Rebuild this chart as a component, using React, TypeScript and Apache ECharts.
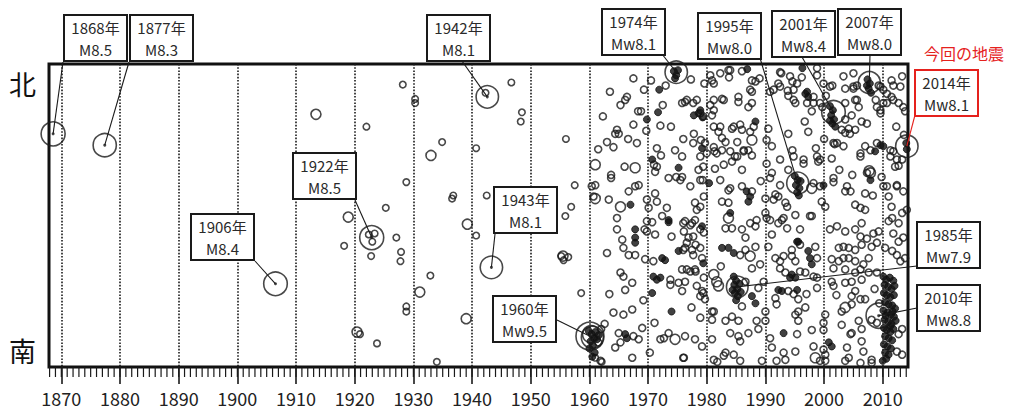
import React, { useEffect, useRef } from "react";
import * as echarts from "echarts";

// ---- axis ranges (year, degrees south) ----
const X_MIN = 1867.9;
const X_MAX = 2014.3;
const Y_MIN = 11.5;
const Y_MAX = 41;

const decadeLabels = [1870, 1880, 1890, 1900, 1910, 1920, 1930, 1940, 1950, 1960, 1970, 1980, 1990, 2000, 2010];

// ---- major earthquakes ----
const eventNames = ["1868年", "1877年", "1906年", "1922年", "1942年", "1943年", "1960年", "1974年", "1985年", "1995年", "2001年", "2007年", "2010年", "2014年"];
const eventYears = [1868.6, 1877.4, 1906.5, 1922.9, 1942.6, 1943.3, 1960.1, 1974.8, 1985.2, 1995.5, 2001.6, 2007.7, 2009.3, 2014.1];
const eventLats = [18.3, 19.4, 32.9, 28.4, 14.7, 31.3, 38.0, 12.3, 33.2, 23.1, 16.2, 13.3, 36.0, 19.5];
const eventMags = [8.5, 8.3, 8.4, 8.5, 8.1, 8.1, 9.5, 8.1, 7.9, 8.0, 8.4, 8.0, 8.8, 8.1];
const eventMagTypes = ["M", "M", "M", "M", "M", "M", "Mw", "Mw", "Mw", "Mw", "Mw", "Mw", "Mw", "Mw"];
const currentEventName = "2014年";

// other large shocks: [year, lat, magnitude]
const otherLarge: [number, number, number][] = [
  [1960.5, 38.1, 8.0],
  [1960.3, 37.8, 6.8],
];

// ---- smaller earthquakes: [year, latitude south] ----
const earlyQuakes: [number, number][] = [
  [1922.0, 17.6], [1928.2, 13.5], [1930.3, 14.9], [1930.3, 15.3], [1934.9, 19.1], [1928.8, 23.0], [1925.3, 25.5],
  [1918.2, 29.2], [1922.8, 30.2], [1927.1, 28.4], [1927.9, 29.8], [1927.8, 30.7], [1932.9, 32.1], [1928.8, 35.1],
  [1928.8, 35.6], [1920.9, 37.8], [1923.8, 38.7], [1934.0, 40.5], [1936.6, 24.6], [1936.8, 24.3],
  [1940.7, 19.7], [1940.7, 28.2], [1942.5, 24.3], [1946.7, 13.3], [1948.5, 16.2], [1948.3, 17.1], [1956.0, 18.8],
  [1957.5, 23.3], [1956.9, 25.4], [1955.9, 26.3], [1955.2, 30.2], [1955.6, 30.6], [1956.4, 30.3], [1958.6, 33.8],
  [1962.1, 40.5], [1961.0, 40.1], [1922.4, 28.1], [1923.4, 28.0], [1923.0, 28.8], [1942.3, 14.3],
];

const mediumQuakes: [number, number][] = [
  [1913.4, 16.4], [1933.0, 20.4], [1918.9, 26.4], [1931.1, 33.7], [1939.2, 27.1], [1939.0, 36.3], [1920.4, 37.6],
  [1955.5, 30.2], [1961.0, 21.3], [1961.0, 24.6], [1965.3, 25.4], [1967.8, 21.6], [1987.7, 18.9], [1997.9, 23.6],
  [2007.9, 22.1], [1981.2, 32.0], [1981.7, 32.7], [1982.0, 33.1], [1983.7, 26.5], [1974.6, 38.3], [1987.4, 30.2],
  [2003.6, 35.2], [1998.5, 40.1], [2007.7, 21.9],
];

const modernQuakes: [number, number][] = [
  // 1960-1986, north
  [1967.5, 12.9], [1966.4, 14.7], [1966.1, 15.0], [1965.3, 15.5], [1968.3, 16.1], [1968.8, 16.1], [1972.5, 15.5],
  [1975.8, 15.3], [1976.3, 15.2], [1967.5, 17.4], [1969.7, 18.0], [1972.1, 17.5], [1980.6, 15.5], [1981.2, 15.0],
  [1982.3, 12.4], [1983.7, 12.1], [1983.8, 12.8], [1982.6, 14.9], [1985.4, 14.7], [1984.3, 17.8], [1985.7, 17.4],
  [1986.0, 17.9], [1981.2, 17.6], [1982.0, 18.1], [1982.6, 18.7], [1983.2, 19.1], [1985.2, 19.1], [1986.3, 19.9],
  [1985.2, 20.5], [1982.6, 19.9], [1981.3, 20.0], [1964.7, 17.9], [1965.0, 18.3], [1964.4, 18.3], [1963.0, 19.1],
  [1964.1, 19.6], [1968.1, 19.2], [1971.5, 19.7], [1972.2, 20.4], [1974.6, 19.9], [1975.8, 20.5], [1977.8, 18.3],
  [1980.0, 20.2], [1963.7, 22.3], [1963.7, 22.6], [1966.0, 21.5], [1971.0, 21.3], [1971.5, 21.5], [1971.2, 22.0],
  [1973.5, 22.6], [1974.8, 22.5], [1975.8, 22.5], [1978.6, 21.8], [1979.3, 22.8], [1982.9, 21.3], [1984.3, 21.0],
  [1986.0, 21.8], [1983.7, 23.8], [1960.4, 23.4], [1963.3, 24.7], [1966.7, 23.9], [1967.8, 23.4], [1968.4, 23.3],
  [1969.8, 24.7], [1970.1, 25.5], [1971.2, 24.1], [1971.5, 24.9], [1973.2, 25.5], [1972.4, 26.3], [1978.9, 25.4],
  [1978.0, 25.0], [1978.3, 25.7], [1979.5, 24.4], [1982.6, 24.9], [1983.7, 25.0], [1961.0, 23.3], [1960.7, 24.4],
  [1969.3, 14.0], [1970.5, 13.1], [1973.0, 13.6], [1977.3, 13.0], [1979.6, 13.4], [1980.6, 12.6], [1963.5, 14.2],
  [1966.6, 18.8], [1973.9, 17.6], [1976.0, 18.8], [1979.0, 18.9], [1962.3, 16.6], [1961.5, 19.8],
  [1984.0, 12.1], [1986.0, 12.2], [1980.9, 13.1], [1981.2, 13.4], [1976.6, 15.0], [1977.7, 15.3], [1978.3, 15.0],
  [1978.9, 16.3], [1979.4, 16.6], [1981.2, 16.0], [1980.9, 16.5], [1982.9, 15.0], [1985.4, 15.2], [1982.3, 17.6],
  [1984.6, 17.6], [1977.7, 19.2], [1979.7, 19.2], [1981.2, 19.6], [1981.7, 20.2], [1978.9, 20.5], [1979.4, 21.5],
  [1981.4, 21.7], [1984.0, 20.0], [1984.8, 20.5], [1986.3, 20.0], [1975.5, 22.8], [1977.2, 23.4], [1978.9, 22.8],
  [1982.3, 22.8], [1984.0, 23.6], [1986.0, 23.4],
  // 1986-2014, north
  [1987.7, 13.1], [1988.3, 13.2], [1987.4, 14.0], [1987.7, 14.2], [1990.8, 14.2], [1991.4, 14.0], [1992.2, 13.4],
  [1992.5, 13.7], [1992.7, 12.4], [1993.8, 14.1], [1993.9, 14.6], [1994.8, 15.0], [1995.1, 15.3], [1996.2, 12.8],
  [1998.2, 15.3], [1997.9, 16.1], [2001.0, 13.7], [2001.4, 13.6], [2003.3, 12.7], [2003.6, 13.9], [2005.0, 13.9],
  [2005.6, 13.6], [2009.3, 13.6], [2009.6, 13.7], [2011.5, 13.1], [2011.8, 13.6], [2013.3, 12.7], [2010.7, 14.4],
  [2011.5, 14.7], [2012.7, 15.3], [1999.3, 15.3], [1999.7, 15.7], [2003.6, 15.3], [2005.3, 15.0], [2005.9, 15.7],
  [2004.7, 16.5], [2003.6, 16.9], [2006.4, 17.1], [2007.3, 17.3], [2005.3, 17.9], [2004.2, 17.8], [2003.0, 17.9],
  [2003.6, 18.2], [2010.1, 15.3], [2009.6, 16.0], [2013.8, 16.1], [1987.7, 15.3], [1987.1, 15.7], [1988.0, 17.6],
  [1987.4, 18.1], [1987.1, 19.9], [1987.7, 20.4], [1990.5, 17.8], [1990.2, 18.9], [1991.1, 19.5], [1990.2, 21.2],
  [1991.1, 22.1], [1990.8, 22.6], [1993.9, 18.3], [1996.7, 17.1], [1997.3, 18.1], [1992.5, 20.8], [1993.9, 21.8],
  [1996.5, 20.8], [1999.0, 21.0], [2001.3, 20.7], [2001.6, 19.2], [2001.8, 19.3], [1992.5, 23.3], [1991.7, 24.2],
  [1992.2, 24.4], [1993.4, 25.0], [1993.7, 25.4], [1999.6, 24.9], [2000.2, 25.4], [2001.6, 22.6], [2003.6, 23.9],
  [2004.5, 23.9], [2005.3, 25.2], [2006.2, 25.5], [2007.0, 25.7], [2006.2, 20.5], [2007.0, 19.5], [2007.9, 19.9],
  [2011.3, 19.9], [2011.8, 20.0], [2012.1, 21.5], [2012.7, 21.4], [2013.3, 20.8], [2009.8, 22.5], [2010.1, 23.4],
  [2011.0, 24.4], [2011.5, 25.4], [2013.3, 26.0], [2014.1, 25.7], [1990.0, 26.0], [1990.0, 24.6], [1991.4, 24.7],
  [1997.9, 26.3], [1995.1, 26.2], [1989.0, 12.9], [1994.6, 13.2], [1998.8, 12.6], [2000.3, 14.6], [2008.8, 15.0],
  [2012.3, 17.6], [2013.6, 18.4], [2000.0, 18.8], [1998.6, 19.7], [1994.6, 19.9], [1989.2, 22.9], [2008.3, 24.3],
  [2012.4, 23.3], [2002.6, 21.8], [2004.8, 22.3],
  [1992.5, 12.3], [1994.2, 12.7], [1994.8, 14.0], [1995.4, 13.4], [1998.8, 11.9], [1999.9, 13.4], [1998.2, 14.7],
  [1997.1, 15.3], [2005.0, 12.4], [2005.0, 13.7], [2005.6, 15.0], [2010.1, 14.0], [2011.8, 15.0], [2010.7, 15.3],
  [2013.0, 13.7], [2013.5, 15.7], [2009.0, 15.7], [2009.6, 16.3], [2002.2, 19.2], [2003.3, 19.5], [2004.4, 18.3],
  [2006.2, 20.2], [2009.0, 19.2], [2011.3, 20.5], [2012.4, 20.8], [1998.8, 20.5], [1999.3, 20.8], [1994.8, 20.5],
  [1996.5, 21.2], [1998.2, 23.1], [1999.3, 23.4], [2001.6, 23.0], [2003.9, 23.4], [2007.3, 22.1], [2007.0, 24.1],
  [2010.7, 23.4], [2012.4, 23.4], [2013.5, 23.9], [1987.7, 23.9],
  // 1960-1986, south
  [1961.9, 40.4], [1964.7, 26.5], [1964.7, 27.6], [1965.6, 28.6], [1965.8, 29.4], [1963.0, 29.9], [1966.7, 30.1],
  [1967.8, 30.1], [1969.4, 27.6], [1969.8, 27.8], [1969.8, 26.8], [1970.7, 26.9], [1971.2, 28.1], [1969.5, 30.5],
  [1970.9, 30.7], [1974.0, 28.3], [1976.3, 29.4], [1977.5, 29.6], [1978.1, 29.1], [1976.3, 26.8], [1977.5, 27.0],
  [1976.1, 27.8], [1976.9, 28.4], [1979.5, 27.9], [1978.9, 29.4], [1979.2, 30.4], [1965.3, 31.8], [1965.8, 32.2],
  [1967.3, 32.8], [1966.1, 33.5], [1973.8, 32.5], [1973.8, 33.0], [1975.2, 32.8], [1975.8, 33.6], [1976.6, 31.5],
  [1978.1, 31.7], [1979.5, 32.3], [1979.2, 33.6], [1978.9, 34.1], [1986.0, 27.6], [1986.6, 28.4], [1985.7, 30.1],
  [1986.6, 29.6], [1983.2, 27.5], [1984.3, 27.5], [1986.0, 35.1], [1981.2, 35.6], [1980.9, 36.4], [1983.2, 36.5],
  [1984.3, 36.1], [1985.4, 36.5], [1964.1, 35.7], [1965.8, 35.9], [1967.3, 35.4], [1965.0, 37.7], [1965.3, 38.6],
  [1964.4, 39.1], [1967.5, 38.0], [1968.4, 38.3], [1969.0, 37.2], [1971.1, 36.7], [1972.1, 38.3], [1972.7, 38.2],
  [1973.5, 37.7], [1976.1, 40.1], [1967.3, 40.1], [1979.2, 39.0], [1980.9, 38.3], [1984.0, 37.7], [1985.4, 38.0],
  [1985.7, 38.5], [1983.2, 39.6], [1984.6, 39.8], [1985.7, 40.4], [1963.4, 33.9], [1969.2, 34.5], [1977.4, 35.2],
  [1982.4, 31.2], [1962.6, 36.8], [1970.3, 39.6], [1981.8, 40.5], [1961.5, 38.6], [1962.0, 37.3],
  [1976.0, 27.0], [1977.2, 27.2], [1978.0, 26.7], [1978.9, 27.6], [1977.7, 28.3], [1976.6, 28.9], [1975.8, 31.5],
  [1977.2, 31.7], [1978.0, 31.5], [1976.0, 29.6], [1977.7, 30.1], [1976.3, 32.7], [1978.3, 33.1], [1979.4, 33.8],
  [1978.9, 36.2], [1979.7, 34.4], [1980.9, 35.6], [1976.3, 38.0], [1978.0, 38.3], [1976.0, 40.1], [1981.2, 40.3],
  [1982.9, 39.9],
  // 1986-2014, south
  [1987.4, 27.0], [1988.5, 26.7], [1988.3, 27.3], [1990.2, 26.5], [1990.8, 26.7], [1992.8, 26.7], [1993.1, 26.5],
  [1992.2, 27.0], [1993.7, 27.5], [1995.9, 27.6], [1997.6, 26.3], [1991.1, 28.1], [1990.5, 29.3], [1988.3, 29.3],
  [1987.7, 31.4], [1989.1, 31.0], [1991.7, 30.4], [1992.5, 30.7], [1993.1, 30.2], [1998.5, 29.3], [1998.8, 30.4],
  [1994.5, 29.6], [1994.5, 30.2], [1995.1, 30.7], [1992.5, 31.4], [1993.4, 31.8], [1995.9, 31.7], [1996.8, 31.8],
  [1998.2, 32.2], [1998.8, 32.3], [1998.8, 33.3], [1995.9, 29.1], [2001.0, 27.6], [2002.2, 27.3], [2003.6, 27.8],
  [2005.3, 27.6], [2006.4, 27.0], [2006.2, 28.3], [2007.3, 28.5], [2008.4, 28.0], [2009.3, 27.8], [2011.0, 26.8],
  [2011.6, 26.5], [2012.7, 27.0], [2011.8, 28.0], [2012.7, 28.8], [2013.5, 28.4], [2002.5, 29.4], [2003.3, 29.3],
  [2004.2, 29.4], [2005.3, 29.6], [2006.4, 29.1], [2008.1, 29.3], [2009.0, 28.9], [2001.3, 30.5], [2002.5, 30.7],
  [2003.3, 30.4], [2004.2, 30.4], [2005.3, 30.7], [2006.7, 31.0], [2007.6, 30.4], [2010.4, 29.4], [2011.6, 29.7],
  [2012.4, 30.1], [2013.0, 30.7], [2013.8, 30.4], [2001.6, 31.4], [2003.6, 31.5], [2005.3, 31.8], [2006.2, 31.5],
  [2007.6, 31.8], [2009.0, 31.8], [2001.3, 32.7], [2001.6, 33.1], [2003.6, 32.8], [2004.7, 32.7], [2006.4, 32.5],
  [2005.3, 33.6], [2004.7, 34.1], [2006.2, 34.4], [2007.0, 34.4], [2004.7, 34.9], [2003.0, 35.6], [2005.9, 36.5],
  [2006.4, 37.3], [2008.1, 36.4], [2009.0, 36.7], [2012.7, 37.8], [2013.3, 37.3], [2012.4, 39.5], [2013.3, 39.8],
  [2003.0, 36.9], [2004.7, 37.7], [2004.5, 37.8], [2006.4, 38.5], [2006.7, 39.5], [2003.9, 39.1], [2004.2, 40.1],
  [2008.1, 40.3], [2008.1, 40.6], [2006.2, 40.6], [2003.6, 40.4], [1999.9, 39.3], [2000.2, 39.8], [2000.2, 40.4],
  [1999.3, 40.4], [1997.9, 37.4], [1998.2, 39.0], [1999.9, 36.7], [1999.9, 37.4], [2000.2, 35.9], [1995.6, 35.6],
  [1995.1, 35.9], [1995.6, 36.5], [1995.4, 37.8], [1995.1, 39.5], [1993.1, 39.6], [1993.4, 40.3], [1991.9, 40.4],
  [1989.4, 40.4], [1990.8, 38.2], [1991.1, 39.1], [1988.5, 36.5], [1988.8, 37.3], [1987.1, 37.7], [1990.0, 35.6],
  [1990.0, 36.5], [1991.9, 34.9], [1991.7, 34.3], [1988.8, 33.3], [1989.7, 32.7], [1986.6, 32.7], [1996.8, 35.2],
  [1995.6, 34.4], [1993.9, 33.6], [1994.8, 33.9], [2008.6, 33.4], [2009.4, 34.8], [2002.1, 34.0], [1997.0, 33.9],
];

const filledQuakes: [number, number][] = [
  // clusters near large events
  [1974.4, 12.2], [1974.8, 12.6], [1975.1, 12.1], [1974.6, 12.9],
  [1959.9, 37.5], [1960.4, 37.8], [1960.8, 38.2], [1960.2, 38.5], [1961.0, 37.6], [1960.6, 38.9], [1961.3, 38.3],
  [1960.0, 39.2], [1961.6, 37.9], [1960.9, 39.6], [1960.5, 40.0],
  [1984.6, 32.2], [1985.0, 32.6], [1984.7, 33.0], [1985.2, 33.4], [1984.8, 33.8], [1985.3, 34.1], [1985.0, 34.5],
  [1985.6, 32.9], [1984.4, 33.5], [1985.8, 33.7],
  [1995.0, 22.4], [1995.5, 22.8], [1995.2, 23.3], [1995.8, 23.6], [1995.4, 24.0], [1996.0, 22.9], [1995.7, 24.3],
  [2001.0, 15.6], [2001.5, 16.0], [2001.2, 16.5], [2001.7, 16.9], [2001.4, 17.3], [2001.9, 17.6], [2001.0, 17.0],
  [2007.4, 13.0], [2007.8, 13.4], [2007.6, 13.9], [2008.0, 14.3], [2007.3, 13.6],
  [2010.1, 32.2], [2010.6, 32.5], [2011.2, 32.3], [2011.8, 32.6], [2010.3, 33.0], [2010.9, 33.2], [2011.5, 33.4],
  [2012.0, 33.1], [2010.2, 33.8], [2010.7, 34.0], [2011.3, 34.2], [2011.9, 34.0], [2010.4, 34.7], [2011.0, 34.9],
  [2011.6, 35.0], [2012.1, 35.3], [2010.1, 35.5], [2010.8, 35.7], [2011.4, 35.9], [2011.9, 36.1], [2010.3, 36.4],
  [2010.9, 36.6], [2011.5, 36.8], [2012.2, 36.5], [2010.2, 37.2], [2010.7, 37.4], [2011.3, 37.6], [2011.8, 37.3],
  [2010.4, 38.0], [2011.0, 38.2], [2011.6, 38.4], [2010.2, 38.8], [2010.8, 39.0], [2011.4, 39.2], [2010.4, 39.6],
  [2011.0, 39.8], [2010.6, 40.2], [2011.3, 37.0], [2011.7, 35.6], [2010.5, 36.0], [2010.0, 40.4],
  [2014.0, 19.2], [2014.1, 19.8],
  // scattered dark dots / small clusters
  [1971.9, 14.0], [1971.7, 16.2], [1969.8, 16.9], [1978.6, 16.3], [1979.3, 16.7], [1977.8, 16.5], [1978.9, 16.0],
  [1979.2, 19.7], [1970.7, 20.8], [1975.2, 21.6], [1980.4, 23.1], [1984.0, 26.0], [1967.0, 25.2],
  [1996.8, 14.4], [1997.1, 14.2], [1997.3, 14.7], [1988.3, 17.1], [1999.9, 23.3], [2008.7, 20.0], [2009.6, 19.4],
  [2010.1, 19.5], [2007.9, 22.8], [1986.8, 23.9], [1987.4, 24.4], [1987.1, 24.9],
  [1967.8, 27.6], [1967.8, 28.4], [1967.8, 28.9], [1972.4, 30.4], [1972.9, 30.6], [1973.5, 26.7], [1973.5, 26.9],
  [1975.2, 29.7], [1979.2, 27.3], [1970.9, 32.2], [1971.5, 32.5], [1972.1, 32.3], [1970.7, 33.8], [1982.6, 29.4],
  [1983.7, 29.4], [1984.6, 29.9], [1974.0, 35.6], [1966.1, 37.8], [1966.4, 38.2],
  [1995.4, 28.8], [1995.6, 28.8], [1997.3, 29.7], [1997.6, 30.4], [1997.9, 31.0], [1994.2, 32.3], [1994.5, 32.0],
  [1995.1, 32.3], [1992.2, 33.5], [1992.8, 33.6], [1995.4, 33.5], [1993.1, 37.7], [2000.8, 38.6], [2001.3, 39.0],
  [1987.7, 34.1], [1988.3, 34.8], [1986.9, 12.0], [1996.3, 11.9], [1979.4, 30.9],
];

// ---- annotation box layout: [boxLeft, boxTop, leaderStartX, leaderStartY] (px), by event index ----
const boxLayout: [number, number, number, number][] = [
  [64, 15, 63, 62], [130, 15, 129, 62], [191, 214, 255, 261], [293, 153, 355, 200], [427, 15, 462, 61],
  [494, 187, 495, 234], [493, 296, 557, 320], [602, 9, 662, 54], [917, 222, 917, 266], [698, 13, 760, 58],
  [772, 11, 802, 57], [838, 9, 870, 55], [917, 285, 917, 308], [915, 70, 915, 115],
];

const magSize = (m: number) => 20 + (m - 7.5) * 4;
const FONT = "'Noto Sans CJK JP', 'Noto Sans', sans-serif";
const INK = "#1a1a1a";
const RED = "#e5211d";

export default function App() {
  const ref = useRef<HTMLDivElement>(null);

  useEffect(() => {
    if (!ref.current) return;
    const chart = echarts.init(ref.current, null, { renderer: "svg" });

    const yearTicks: number[][] = [];
    for (let y = 1868; y <= 2014; y++) yearTicks.push([y, Y_MAX]);

    const openStyle = { color: "rgba(255,255,255,0)", borderColor: INK, borderWidth: 1.6 };
    const eventData = eventYears.map((y, i) => [y, eventLats[i], eventMags[i]]);

    chart.setOption({
      animation: false,
      grid: {
        left: 49,
        right: 111,
        top: 64,
        bottom: 44,
        show: true,
        borderColor: "#111",
        borderWidth: 3,
        backgroundColor: "transparent",
      },
      xAxis: {
        type: "value",
        min: X_MIN,
        max: X_MAX,
        axisLine: { show: false },
        axisTick: { show: true, customValues: decadeLabels, length: 17, lineStyle: { color: INK, width: 1.6 } },
        axisLabel: {
          show: true,
          customValues: decadeLabels,
          formatter: (v: number) => String(v),
          margin: 22,
          fontSize: 18,
          color: "#222",
          fontFamily: FONT,
        },
        splitLine: { show: false },
      },
      yAxis: { type: "value", min: Y_MIN, max: Y_MAX, inverse: true, show: false },
      series: [
        {
          type: "scatter",
          name: "grid",
          data: [],
          markLine: {
            silent: true,
            symbol: "none",
            label: { show: false },
            lineStyle: { type: "dotted", color: INK, width: 1.6 },
            data: decadeLabels.map((d) => ({ xAxis: d })),
          },
        },
        {
          type: "custom",
          name: "yearTicks",
          data: yearTicks,
          clip: false,
          silent: true,
          renderItem: (_params: any, api: any) => {
            const p = api.coord([api.value(0), api.value(1)]);
            return {
              type: "line",
              shape: { x1: p[0], y1: p[1], x2: p[0], y2: p[1] + 10 },
              style: { stroke: INK, lineWidth: 1.2 },
            };
          },
        },
        { type: "scatter", name: "early", data: earlyQuakes, symbolSize: 6.5, itemStyle: openStyle, silent: true },
        { type: "scatter", name: "modern", data: modernQuakes, symbolSize: 7, itemStyle: openStyle, silent: true },
        { type: "scatter", name: "medium", data: mediumQuakes, symbolSize: 10, itemStyle: openStyle, silent: true },
        {
          type: "scatter",
          name: "filled",
          data: filledQuakes,
          symbolSize: 7,
          itemStyle: { color: "#111", borderColor: "#111", borderWidth: 1 },
          silent: true,
        },
        {
          type: "scatter",
          name: "otherLarge",
          data: otherLarge,
          symbolSize: (v: number[]) => magSize(v[2]),
          itemStyle: openStyle,
          silent: true,
        },
        {
          type: "scatter",
          name: "events",
          data: eventData,
          symbolSize: (v: number[]) => magSize(v[2]),
          itemStyle: openStyle,
          silent: true,
          z: 3,
        },
        {
          type: "scatter",
          name: "eventCenters",
          data: eventData,
          symbolSize: 3,
          itemStyle: { color: INK },
          silent: true,
        },
      ],
    });

    // annotation boxes with leader lines anchored to data points
    const g: any[] = [
      { type: "text", left: 9, top: 70, style: { text: "北", fontSize: 27, fill: "#111", fontFamily: FONT } },
      { type: "text", left: 9, top: 337, style: { text: "南", fontSize: 27, fill: "#111", fontFamily: FONT } },
      {
        type: "text",
        x: 964,
        y: 53,
        style: { text: "今回の地震", fontSize: 16, fill: RED, fontFamily: FONT, align: "center", verticalAlign: "middle" },
        z: 20,
      },
    ];
    eventYears.forEach((yr, i) => {
      const p = chart.convertToPixel({ gridIndex: 0 }, [yr, eventLats[i]]) as number[];
      const [bx, by, lx, ly] = boxLayout[i];
      const isCurrent = eventNames[i] === currentEventName;
      const stroke = isCurrent ? RED : INK;
      g.push({
        type: "line",
        shape: { x1: lx, y1: ly, x2: p[0], y2: p[1] },
        style: { stroke, lineWidth: 1.1 },
        z: 10,
      });
      g.push({
        type: "rect",
        shape: { x: bx, y: by, width: 63, height: 46 },
        style: { fill: "#fff", stroke, lineWidth: 2 },
        z: 11,
      });
      g.push({
        type: "text",
        x: bx + 31.5,
        y: by + 23,
        style: {
          text: `${eventNames[i]}\n${eventMagTypes[i]}${eventMags[i].toFixed(1)}`,
          fontSize: 15,
          lineHeight: 22,
          fill: "#2a2a2a",
          fontFamily: FONT,
          align: "center",
          verticalAlign: "middle",
        },
        z: 12,
      });
    });
    chart.setOption({ graphic: g });

    return () => chart.dispose();
  }, []);

  return <div ref={ref} style={{ width: 1019, height: 411, position: "absolute", left: 0, top: 0 }} />;
}
